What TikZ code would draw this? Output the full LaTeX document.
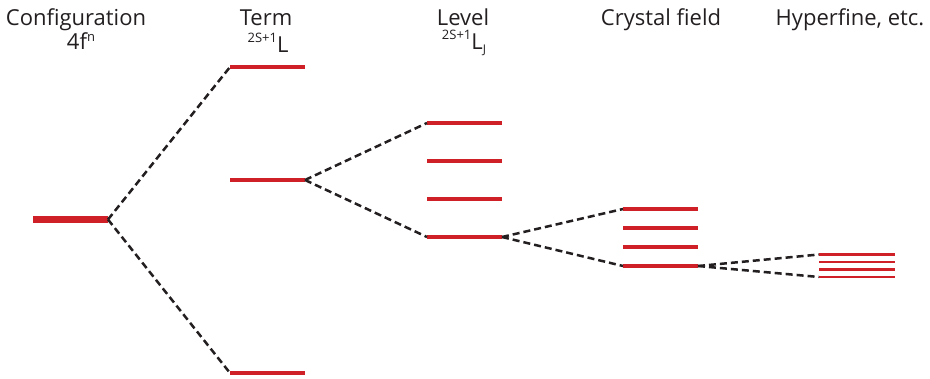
\documentclass[tikz,border=0pt]{standalone}
\usepackage{fontspec}
\setmainfont{Open Sans}
\definecolor{barred}{HTML}{D02027}
\definecolor{txt}{HTML}{231F20}
\newcommand{\supt}[1]{{\fontsize{13}{13}\selectfont\raisebox{10.5pt}{#1}}}
\newcommand{\supn}[1]{{\fontsize{13}{13}\selectfont\raisebox{8pt}[7pt][0pt]{#1}}}
\newcommand{\subt}[1]{{\fontsize{12}{12}\selectfont\raisebox{-3.5pt}{#1}}}
\begin{document}
\begin{tikzpicture}[x=1pt,y=-1pt,
  bar/.style={fill=barred,draw=none,minimum width=75pt,minimum height=3.4pt,inner sep=0pt,outer sep=0pt},
  thickbar/.style={bar,minimum height=7.5pt},
  link/.style={draw=txt,line width=2.5pt,dash pattern=on 7pt off 4pt},
  head/.style={font=\fontsize{22}{22}\selectfont,text=txt,anchor=base,inner sep=0pt}]
\useasboundingbox (0,0) rectangle (930,378);
% headers
\node[head] (h1) at (76,25) {Configuration};
\node[head] (h1b) at (81,49) {4f\supn{n}};
\node[head] (h2) at (266,25) {Term};
\node[head] (h2b) at (268,52.5) {\supt{2S+1}L};
\node[head] (h3) at (463,25) {Level};
\node[head] (h3b) at (464,49.5) {\supt{2S+1}L\subt{J}};
\node[head] (h4) at (661,25) {Crystal field};
\node[head] (h5) at (850,25) {Hyperfine, etc.};
% bars
\node[thickbar] (c) at (70.5,219.5) {};
\node[bar] (t1) at (267.5,67) {};
\node[bar] (t2) at (267.5,180) {};
\node[bar] (t3) at (267.5,373) {};
\node[bar] (l1) at (464.5,123) {};
\node[bar] (l2) at (464.5,161) {};
\node[bar] (l3) at (464.5,199) {};
\node[bar] (l4) at (464.5,237) {};
\node[bar] (k1) at (660.5,209) {};
\node[bar] (k2) at (660.5,228) {};
\node[bar] (k3) at (660.5,247) {};
\node[bar] (k4) at (660.5,266) {};
\node[bar,minimum width=76pt,minimum height=2.8pt] (f1) at (857,254.5) {};
\node[bar,minimum width=76pt,minimum height=2.8pt] (f2) at (857,262) {};
\node[bar,minimum width=76pt,minimum height=2.8pt] (f3) at (857,269.5) {};
\node[bar,minimum width=76pt,minimum height=2.8pt] (f4) at (857,277) {};
% connectors
\draw[link] (c.east) -- (t1.west);
\draw[link] (c.east) -- (t3.west);
\draw[link] (t2.east) -- (l1.west);
\draw[link] (t2.east) -- (l4.west);
\draw[link] (l4.east) -- (k1.west);
\draw[link] (l4.east) -- (k4.west);
\draw[link] (k4.east) -- (f1.west);
\draw[link] (k4.east) -- (f4.west);
\end{tikzpicture}
\end{document}
